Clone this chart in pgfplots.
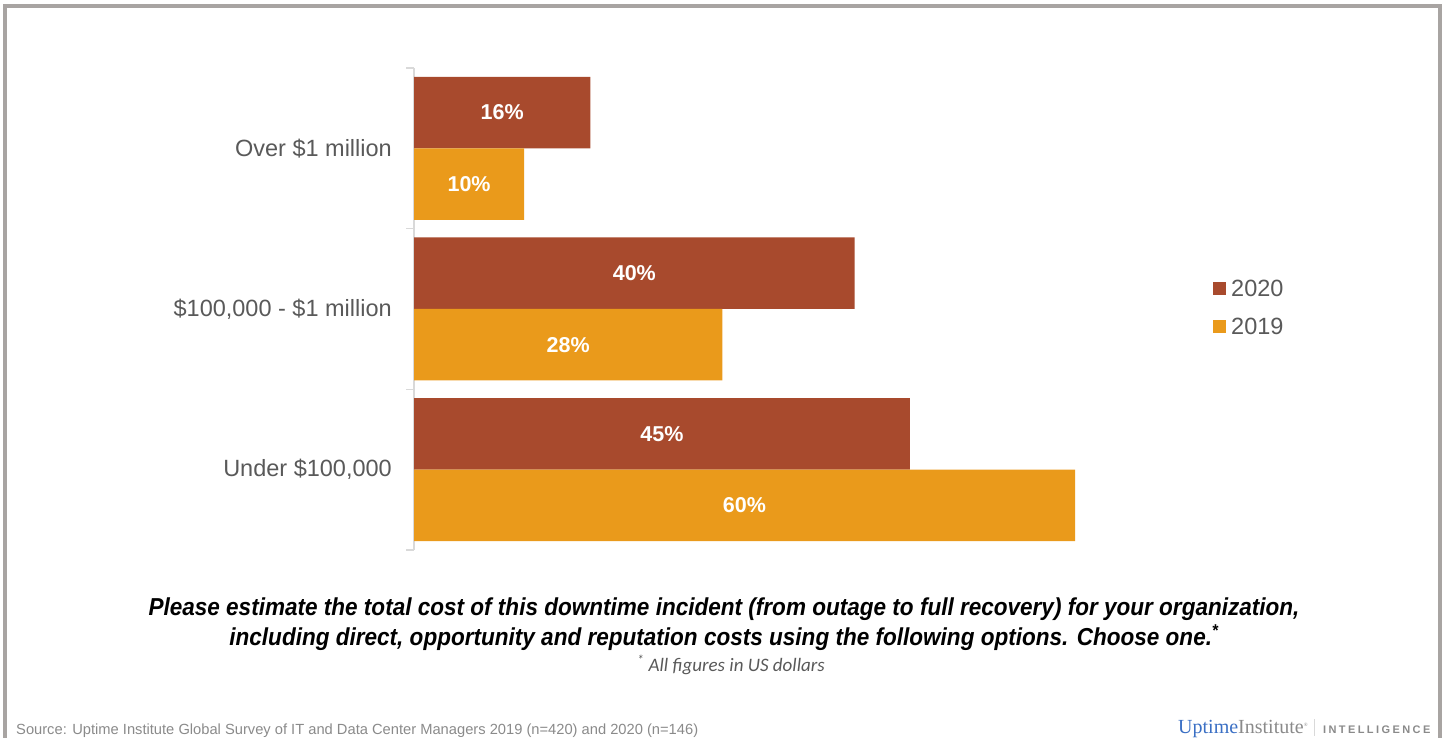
\documentclass[border=0pt]{standalone}
\usepackage{pgfplots}
\pgfplotsset{compat=1.18}
\usepackage{fontspec}
\setmainfont{Liberation Sans}
\newfontfamily\condfont[FakeStretch=0.92]{Liberation Sans}
\newfontfamily\notefont{Carlito}
\newfontfamily\logofont{Liberation Serif}
\definecolor{c2020}{HTML}{A84A2D}
\definecolor{c2019}{HTML}{EA9A1B}
\definecolor{labgray}{HTML}{595959}
\definecolor{srcgray}{HTML}{8A8A8A}
\definecolor{framegray}{HTML}{A8A4A2}
\definecolor{axgray}{HTML}{D9D9D9}
\definecolor{logoblue}{HTML}{3A6FC4}
\begin{document}
\begin{tikzpicture}[x=1pt,y=1pt]
\draw[framegray, line width=4pt] (5pt,0pt) -- (5pt,732pt) -- (1439.5pt,732pt) -- (1439.5pt,0pt);
\begin{axis}[
  at={(414pt,188pt)}, anchor=south west,
  scale only axis, width=661pt, height=482pt,
  xmin=0, xmax=60, ymin=-0.5, ymax=2.5,
  axis x line=none,
  axis y line*=left,
  y axis line style={draw=axgray, line width=1.5pt},
  xbar, bar width=71.5pt,
  ytick={0,1,2},
  yticklabels={{Under \$100,000},{\$100,000 - \$1 million},{Over \$1 million}},
  yticklabel style={font=\fontsize{23.5}{26}\selectfont, text=labgray, inner sep=0pt, xshift=-22pt},
  major tick length=0pt,
  extra y ticks={-0.5,0.5,1.5,2.5}, extra y tick labels={},
  extra y tick style={major tick length=8pt, tick align=outside, tick style={draw=axgray, line width=1.5pt}},
  clip=false,
  legend style={at={(1.2088,0.504)}, anchor=west, draw=none, fill=none,
    font=\fontsize{23.5}{26}\selectfont, text=labgray, row sep=21pt, inner sep=0pt,
    nodes={inner sep=0pt, text height=17pt, text depth=0pt}},
  legend cell align=left,
  legend image code/.code={\fill[#1] (0pt,-6.5pt) rectangle (13pt,6.5pt);},
  every node near coord/.append style={anchor=center, font=\bfseries\fontsize{21.5}{24}\selectfont, text=white},
]
\addplot[fill=c2020, draw=none, bar shift=35.75pt] coordinates {(45,0) (40,1) (16,2)};
\addlegendentry{\hspace{5pt}2020}
\addplot[fill=c2019, draw=none, bar shift=-35.75pt] coordinates {(60,0) (28,1) (10,2)};
\addlegendentry{\hspace{5pt}2019}
\addplot[draw=none, fill=none, bar shift=35.75pt, forget plot, nodes near coords, point meta=explicit symbolic]
  coordinates {(22.5,0)[45\%] (20,1)[40\%] (8,2)[16\%]};
\addplot[draw=none, fill=none, bar shift=-35.75pt, forget plot, nodes near coords, point meta=explicit symbolic]
  coordinates {(30,0)[60\%] (14,1)[28\%] (5,2)[10\%]};
\end{axis}
\node[font=\condfont\bfseries\itshape\fontsize{24.5}{30}\selectfont, align=center, inner sep=0pt] at (724pt,114pt)
  {Please estimate the total cost of this downtime incident (from outage to full recovery) for your organization,\\
   including direct, opportunity and reputation costs using the following options. Choose one.\textsuperscript{*}};
\node[font=\notefont\itshape\fontsize{19}{22}\selectfont, text=labgray, inner sep=0pt] at (731pt,73pt)
  {\textsuperscript{*} All figures in US dollars};
\node[font=\fontsize{14.7}{17}\selectfont, text=srcgray, anchor=base west, inner sep=0pt] at (16pt,3pt)
  {Source: Uptime Institute Global Survey of IT and Data Center Managers 2019 (n=420) and 2020 (n=146)};
\node[anchor=base west, inner sep=0pt] at (1178pt,4pt)
  {{\logofont\fontsize{20}{22}\selectfont\textcolor{logoblue}{Uptime}\textcolor{srcgray}{Institute\textsuperscript{\tiny\textregistered}}}%
   \hspace{6pt}\textcolor{axgray}{\rule[-2pt]{1pt}{17pt}}\hspace{8pt}%
   {\rmfamily\fontsize{11}{13}\selectfont\bfseries\addfontfeatures{LetterSpace=22}\textcolor{srcgray}{INTELLIGENCE}}};
\pgfresetboundingbox
\useasboundingbox (0,0) rectangle (1447pt,738pt);
\end{tikzpicture}
\end{document}
